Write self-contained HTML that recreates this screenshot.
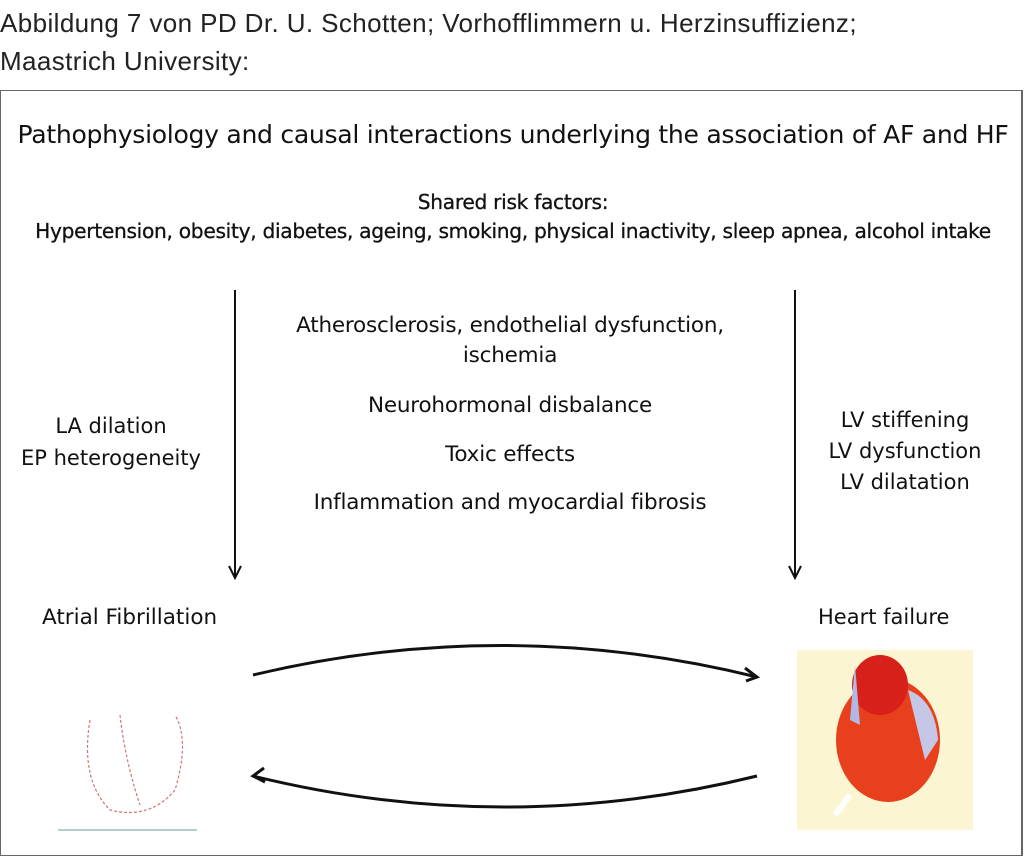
<!DOCTYPE html>
<html><head><meta charset="utf-8"><style>
body{margin:0;width:1024px;height:858px;background:#fff;position:relative;overflow:hidden;font-family:"DejaVu Sans","Liberation Sans",sans-serif;color:#111}
.t{position:absolute;white-space:nowrap}
.c{text-align:center}
</style></head><body>
<div class="t" style="left:0;top:4px;font-size:26px;line-height:38px;font-family:'Liberation Sans',sans-serif;letter-spacing:0.4px;color:#222">Abbildung 7 von PD Dr. U. Schotten; Vorhofflimmern u. Herzinsuffizienz;<br>Maastrich University:</div>
<div style="position:absolute;left:0;top:90px;width:1020px;height:764px;border:1.5px solid #666;border-right-width:2px"></div>
<div class="t c" style="left:0;width:1026px;top:120px;font-size:25.1px;letter-spacing:-0.3px">Pathophysiology and causal interactions underlying the association of AF and HF</div>
<div class="t c" style="left:0;width:1026px;top:188px;font-size:20.2px;line-height:29px;letter-spacing:-0.3px;-webkit-text-stroke:0.3px #111">Shared risk factors:<br>Hypertension, obesity, diabetes, ageing, smoking, physical inactivity, sleep apnea, alcohol intake</div>
<div class="t c" style="left:235px;width:550px;top:311px;font-size:21.5px;line-height:30px;letter-spacing:-0.2px">Atherosclerosis, endothelial dysfunction,<br>ischemia</div>
<div class="t c" style="left:235px;width:550px;top:393px;font-size:21.5px;letter-spacing:-0.2px">Neurohormonal disbalance</div>
<div class="t c" style="left:235px;width:550px;top:442px;font-size:21.5px;letter-spacing:-0.2px">Toxic effects</div>
<div class="t c" style="left:235px;width:550px;top:490px;font-size:21.5px;letter-spacing:-0.2px">Inflammation and myocardial fibrosis</div>
<div class="t c" style="left:0;width:222px;top:410px;font-size:21px;line-height:32px">LA dilation<br>EP heterogeneity</div>
<div class="t c" style="left:800px;width:210px;top:405px;font-size:21px;line-height:31px">LV stiffening<br>LV dysfunction<br>LV dilatation</div>
<div class="t" style="left:42px;top:605px;font-size:21.5px">Atrial Fibrillation</div>
<div class="t" style="left:818px;top:605px;font-size:21px">Heart failure</div>
<svg width="1024" height="858" style="position:absolute;left:0;top:0">
<g stroke="#111" stroke-width="2" fill="none">
<line x1="235" y1="290" x2="235" y2="576"/><path d="M229 566 L235 578 L241 566"/>
<line x1="795" y1="290" x2="795" y2="576"/><path d="M789 566 L795 578 L801 566"/>
<path d="M253 675 Q505 615 757 677" stroke-width="3"/><path d="M745 668 L757 677 L746 681" stroke-width="3"/>
<path d="M757 776 Q505 838 253 776" stroke-width="3"/><path d="M264 768 L253 776 L265 782" stroke-width="3"/>
</g>
<line x1="58" y1="830" x2="197" y2="830" stroke="#b8cccc" stroke-width="2"/>
<path d="M90 720 Q80 780 110 810 Q150 820 175 790 Q190 740 175 715 M120 715 Q125 760 140 805" stroke="#c77" stroke-width="1.2" fill="none" stroke-dasharray="3 2"/>
<rect x="797" y="650" width="176" height="180" fill="#fbf5d2"/>
<ellipse cx="888" cy="740" rx="52" ry="62" fill="#e8401c"/>
<ellipse cx="880" cy="685" rx="28" ry="30" fill="#d8201a"/>
<path d="M908 690 Q935 700 938 740 L925 760 Z" fill="#c6c6e6"/>
<path d="M855 665 L850 720 L860 725 Z" fill="#b0b8e6"/>
<path d="M850 795 L835 815" stroke="#fff" stroke-width="6"/>
</svg>
</body></html>
